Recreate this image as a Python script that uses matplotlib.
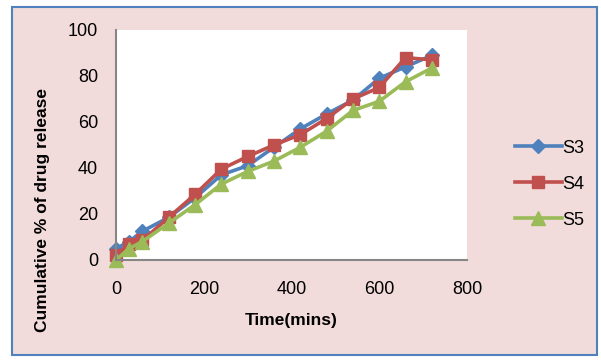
import matplotlib
matplotlib.use("Agg")
import matplotlib.pyplot as plt
from matplotlib.patches import Rectangle

time_min = [0, 30, 60, 120, 180, 240, 300, 360, 420, 480, 540, 600, 660, 720]
s3 = [5, 8, 12.5, 18.5, 27, 37, 41, 49, 57, 63.5, 69.5, 79, 84, 89]
s4 = [2, 7, 8.5, 18.5, 28.5, 39.5, 45, 50, 54.5, 61.5, 70, 75, 88, 87]
s5 = [0, 5, 8, 16, 24, 33, 38.5, 43, 49, 56, 65, 69, 77.5, 83.5]

series = [("S3", s3, "#4F81BD", "D", 7),
          ("S4", s4, "#C0504D", "s", 9),
          ("S5", s5, "#9BBB59", "^", 9.5)]

plt.rcParams['font.family'] = ['Liberation Sans', 'DejaVu Sans']

fig = plt.figure(figsize=(6.01, 3.62), dpi=100, facecolor="white")
# pink chart area with blue border
fig.patches.append(Rectangle((12 / 601, 7 / 362), 585 / 601, 348 / 362,
                             transform=fig.transFigure, facecolor="#F2DCDB",
                             edgecolor="#4F81BD", linewidth=1.5, zorder=-10))

ax = fig.add_axes([116 / 601, 102 / 362, 351 / 601, 230 / 362])
ax.set_zorder(1)
ax.set_facecolor("white")

for name, vals, col, mk, ms in series:
    ax.plot(time_min, vals, color=col, marker=mk, markersize=ms, linewidth=2.6,
            markeredgecolor=col, label=name, clip_on=False)

ax.set_xlim(0, 800)
ax.set_ylim(0, 100)
ax.set_xticks([0, 200, 400, 600, 800])
ax.set_yticks([0, 20, 40, 60, 80, 100])
ax.tick_params(length=0, labelsize=13)
ax.tick_params(axis="y", pad=13)
ax.tick_params(axis="x", pad=15)
for s in ["top", "right"]:
    ax.spines[s].set_visible(False)
for s in ["left", "bottom"]:
    ax.spines[s].set_color("#868686")
    ax.spines[s].set_linewidth(1.5)

ax.set_xlabel("Time(mins)", fontsize=12.5, fontweight="bold")
ax.set_ylabel("Cumulative % of drug release", fontsize=12.5, fontweight="bold")
ax.xaxis.set_label_coords(0.5, -0.23)
ax.yaxis.set_label_coords(-0.188, 0.217)

ax.legend(loc="center left", bbox_to_anchor=(1.09, 0.33), frameon=False,
          fontsize=13, handlelength=2.6, handletextpad=0.05, labelspacing=1.05)

fig.savefig("out.png", dpi=100)
